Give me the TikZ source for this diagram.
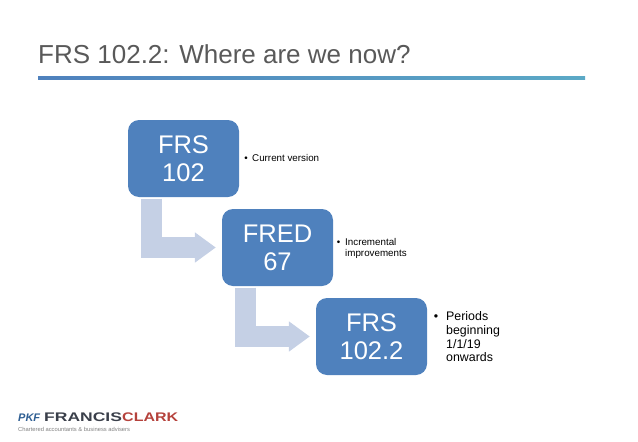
\documentclass[tikz,border=0pt]{standalone}
\usepackage{fontspec}
\setmainfont{Liberation Sans}
\usepackage{tikz}
\usetikzlibrary{arrows.meta}
\definecolor{boxblue}{HTML}{4F81BD}
\definecolor{arrowblue}{HTML}{C5D0E5}
\definecolor{titlegrey}{HTML}{595959}
\definecolor{barteal}{HTML}{5BA9C6}
\definecolor{pkfblue}{HTML}{2F5F93}
\definecolor{logodark}{HTML}{3A3F4A}
\definecolor{logored}{HTML}{B5423C}
\tikzset{
	stagebox/.style={fill=boxblue, rounded corners=11pt, minimum width=111pt, minimum height=77pt,
		inner sep=0pt, align=center, text=white, font=\fontsize{25.5}{28}\selectfont},
	notesmall/.style={anchor=west, inner sep=0pt, align=left, font=\fontsize{9.8}{11}\selectfont},
	notebig/.style={anchor=west, inner sep=0pt, align=left, font=\fontsize{12.4}{13.7}\selectfont},
	bentarrow/.style={draw=arrowblue, line width=21pt, line join=miter, shorten >=6pt,
		-{Triangle[width=29pt,length=21pt]}},
}
\newcommand{\bulletmark}[1]{\llap{\textbullet\hskip #1}}
\begin{document}
\begin{tikzpicture}[x=1pt,y=-1pt] % three stages joined by bent arrows
\useasboundingbox (0,0) rectangle (638,442);

\node[anchor=base west, inner sep=0pt, text=titlegrey, font=\fontsize{26}{28}\selectfont] (title) at (38,63) {FRS 102.2: Where are we now?};
\fill[left color=boxblue, right color=barteal] (38,76.5) rectangle (585,79.5);

\node[stagebox] (frs) at (183.5,158.5) {FRS\\102};
\node[stagebox] (fred) at (277.5,247.5) {FRED\\67};
\node[stagebox] (frsnew) at (371.5,336.5) {FRS\\102.2};

\draw[bentarrow] ([xshift=23.5pt,yshift=-1.5pt]frs.south west) |- (fred.west);
\draw[bentarrow] ([xshift=23.5pt,yshift=-1.5pt]fred.south west) |- (frsnew.west);

\node[notesmall] (current) at (252,158) {\bulletmark{4.5pt}Current version};
\node[notesmall] (incremental) at (345,248) {\bulletmark{5pt}Incremental\\improvements};
\node[notebig] (periods) at (446,337) {\bulletmark{8pt}Periods\\beginning\\1/1/19\\onwards};

% logo
\node[anchor=base west, inner sep=0pt, text=pkfblue, font=\fontsize{11}{12}\bfseries\itshape] (pkf) at (18,421) {PKF};
\node[anchor=base west, inner sep=0pt, text=logodark, font=\fontsize{12.5}{14}\bfseries] (francis) at (44,421) {\scalebox{1.4}[1]{FRANCIS}};
\node[anchor=base west, inner sep=0pt, text=logored, font=\fontsize{12.5}{14}\bfseries] (clark) at (122,421) {\scalebox{1.28}[1]{CLARK}};
\node[anchor=base west, inner sep=0pt, text=gray, font=\fontsize{5.8}{7}\selectfont] (tagline) at (18,431) {Chartered accountants \& business advisers};
\end{tikzpicture}
\end{document}
